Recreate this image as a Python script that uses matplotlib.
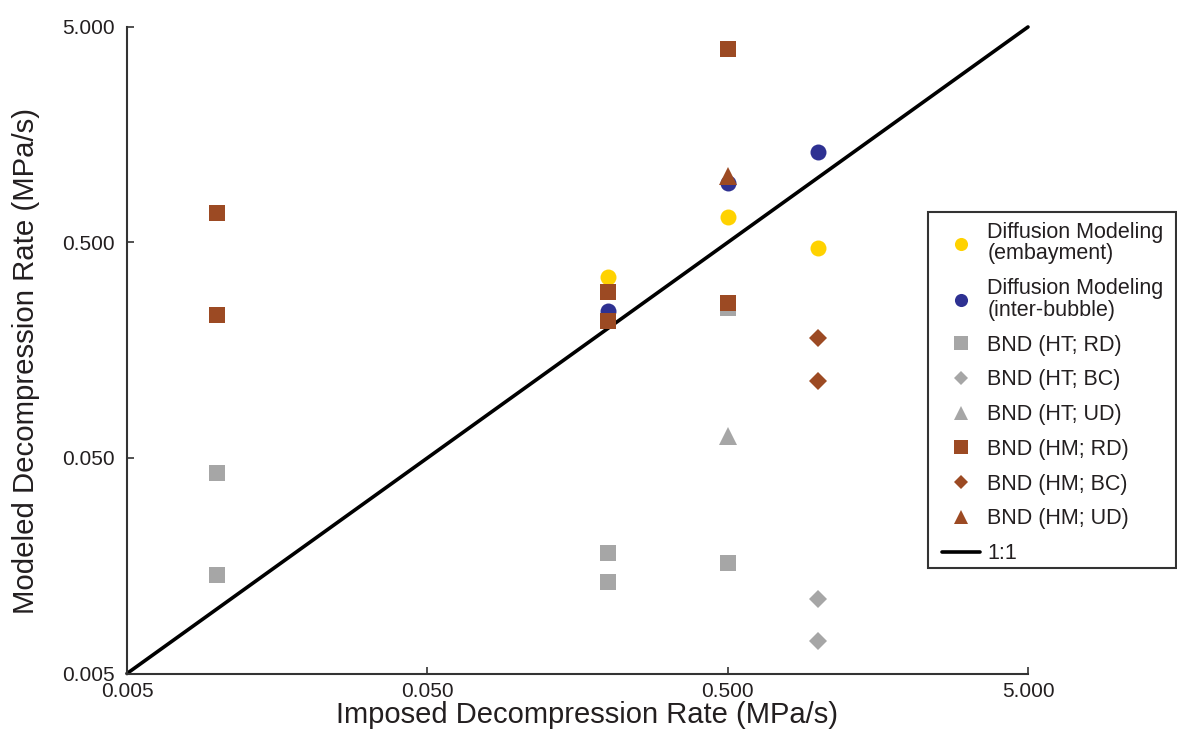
import matplotlib
matplotlib.use('Agg')
import matplotlib.pyplot as plt
from matplotlib.patches import Rectangle

plt.rcParams['font.family'] = ['Liberation Sans', 'DejaVu Sans']

# ---- data (MPa/s) ----
emb_x = [0.2, 0.5, 1.0]
emb_y = [0.346, 0.658, 0.469]

inter_x = [0.2, 0.5, 1.0]
inter_y = [0.240, 0.946, 1.31]

ht_rd_x = [0.01, 0.01, 0.2, 0.2, 0.5, 0.5]
ht_rd_y = [0.0426, 0.0143, 0.0182, 0.0133, 0.248, 0.0163]

ht_bc_x = [1.0, 1.0]
ht_bc_y = [0.0111, 0.00706]

ht_ud_x = [0.5]
ht_ud_y = [0.063]

hm_rd_x = [0.01, 0.01, 0.2, 0.2, 0.5, 0.5]
hm_rd_y = [0.687, 0.231, 0.294, 0.216, 3.97, 0.263]

hm_bc_x = [1.0, 1.0]
hm_bc_y = [0.180, 0.1135]

hm_ud_x = [0.5]
hm_ud_y = [1.016]

one_to_one = [0.005, 5.0]

tick_vals = [0.005, 0.05, 0.5, 5.0]
tick_labels = ['0.005', '0.050', '0.500', '5.000']

# ---- style ----
YELLOW = '#FFD200'
BLUE = '#2E3192'
GRAY = '#A6A6A6'
BROWN = '#9C4A23'
TXT = '#231F20'

W, H = 1177, 749
fig = plt.figure(figsize=(W / 100, H / 100), dpi=100)
ax = fig.add_axes([0.1079, 0.1008, 0.7655, 0.8632])
ax.set_xscale('log')
ax.set_yscale('log')
ax.set_xlim(0.005, 5)
ax.set_ylim(0.005, 5)

line, = ax.plot(one_to_one, one_to_one, color='black', lw=2.6, zorder=2,
                clip_on=False, solid_capstyle='round', label='1:1')

kw = dict(linestyle='none', markeredgewidth=0, zorder=3, clip_on=False)
h1, = ax.plot(emb_x, emb_y, 'o', color=YELLOW, ms=11.5,
              label='Diffusion Modeling\n(embayment)', **kw)
h2, = ax.plot(inter_x, inter_y, 'o', color=BLUE, ms=11.5,
              label='Diffusion Modeling\n(inter-bubble)', **kw)
h3, = ax.plot(ht_rd_x, ht_rd_y, 's', color=GRAY, ms=11.5, label='BND (HT; RD)', **kw)
h4, = ax.plot(ht_bc_x, ht_bc_y, 'D', color=GRAY, ms=9.2, label='BND (HT; BC)', **kw)
h5, = ax.plot(ht_ud_x, ht_ud_y, '^', color=GRAY, ms=12.6, label='BND (HT; UD)', **kw)
h6, = ax.plot(hm_rd_x, hm_rd_y, 's', color=BROWN, ms=11.5, label='BND (HM; RD)', **kw)
h7, = ax.plot(hm_bc_x, hm_bc_y, 'D', color=BROWN, ms=9.2, label='BND (HM; BC)', **kw)
h8, = ax.plot(hm_ud_x, hm_ud_y, '^', color=BROWN, ms=12.6, label='BND (HM; UD)', **kw)

# axes styling
for s in ['top', 'right']:
    ax.spines[s].set_visible(False)
for s in ['left', 'bottom']:
    ax.spines[s].set_linewidth(1.5)
    ax.spines[s].set_color('#333333')

ax.set_xticks(tick_vals)
ax.set_xticklabels(tick_labels)
ax.set_yticks(tick_vals)
ax.set_yticklabels(tick_labels)
ax.minorticks_off()
ax.tick_params(axis='x', which='major', direction='in', length=5, width=1.2,
               color='#333333', labelsize=15, labelcolor=TXT, pad=6)
ax.tick_params(axis='y', which='major', direction='in', length=5, width=1.2,
               color='#333333', labelsize=15, labelcolor=TXT, pad=8.5)

ax.set_xlabel('Imposed Decompression Rate (MPa/s)', fontsize=21, color=TXT)
ax.set_ylabel('Modeled Decompression Rate (MPa/s)', fontsize=21.2, color=TXT)
ax.xaxis.set_label_coords(0.510, -0.043)
ax.yaxis.set_label_coords(-0.097, 0.483)

# legend content (no frame) + separate frame box
leg = ax.legend(handles=[h1, h2, h3, h4, h5, h6, h7, h8, line],
                loc='upper left', bbox_to_anchor=(942 / W, 1 - 222 / H),
                bbox_transform=fig.transFigure, borderaxespad=0,
                fontsize=15.5, frameon=False,
                handlelength=1.77, handletextpad=0.33, borderpad=0,
                labelspacing=0.64, markerscale=0.82)
for t in leg.get_texts():
    t.set_color(TXT)
    t.set_linespacing(1.03)

frame = Rectangle((928 / W, 1 - 568 / H), 247.5 / W, 356 / H,
                  transform=fig.transFigure, fill=False,
                  edgecolor='#333333', linewidth=1.5, zorder=5)
fig.patches.append(frame)

fig.savefig('out.png', dpi=100)
